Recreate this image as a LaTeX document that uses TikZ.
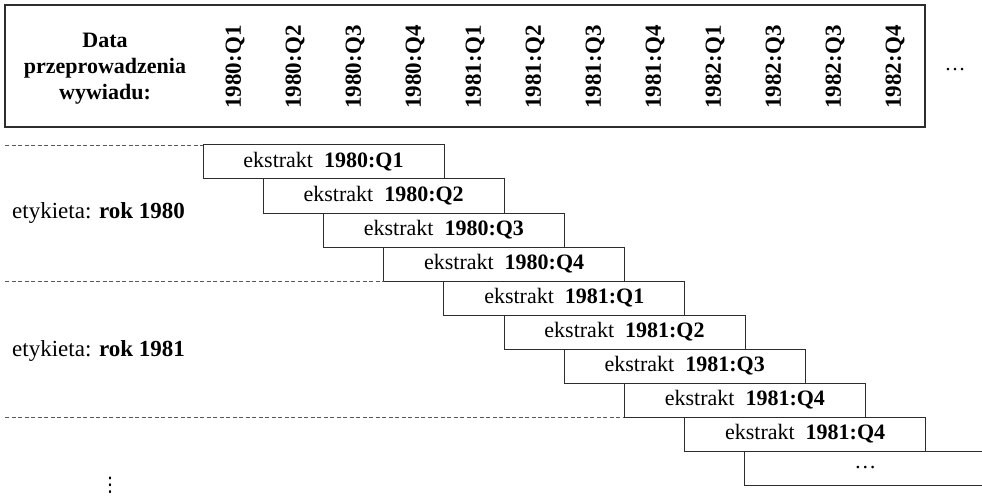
\documentclass[tikz,border=0pt]{standalone}
\usepackage{fontspec}
\setmainfont{Liberation Serif}
\newfontfamily\symfont{DejaVu Sans}
\usetikzlibrary{positioning}
\definecolor{dfline}{RGB}{45,45,45}
\definecolor{dfdash}{RGB}{90,90,90}
\tikzstyle{hdrbox} = [rectangle, draw=dfline, line width=1.2pt, minimum width=920pt, minimum height=122pt, inner sep=0pt, outer sep=0pt]
\tikzstyle{hdrtext} = [align=center, font=\fontsize{22}{26}\selectfont\bfseries]
\tikzstyle{qlabel} = [rotate=90, inner sep=0pt, font=\fontsize{23}{26}\selectfont\bfseries]
\tikzstyle{extbox} = [rectangle, draw=dfline, line width=1pt, minimum width=241pt, minimum height=34pt, inner sep=0pt, outer sep=0pt, anchor=north west, font=\fontsize{22}{25}\selectfont]
\tikzstyle{yearlabel} = [anchor=west, inner sep=0pt, font=\fontsize{23}{26}\selectfont]
\tikzstyle{yearline} = [dash pattern=on 4pt off 2.5pt, color=dfdash, line width=0.9pt]

\begin{document}
\begin{tikzpicture}[x=1pt, y=-1pt]
\clip (0,0) rectangle (982,497);
% Header with the interview dates
\node[hdrbox] (hdr) at (465,66) {};
\node[hdrtext] (title) at (105,69) {Data\\przeprowadzenia\\wywiadu:};
\node[qlabel] (q1) at (235,67) {1980:Q1};
\node[qlabel] (q2) at (295,67) {1980:Q2};
\node[qlabel] (q3) at (355,67) {1980:Q3};
\node[qlabel] (q4) at (415,67) {1980:Q4};
\node[qlabel] (q5) at (475,67) {1981:Q1};
\node[qlabel] (q6) at (535,67) {1981:Q2};
\node[qlabel] (q7) at (595,67) {1981:Q3};
\node[qlabel] (q8) at (655,67) {1981:Q4};
\node[qlabel] (q9) at (715,67) {1982:Q1};
\node[qlabel] (q10) at (775,67) {1982:Q3};
\node[qlabel] (q11) at (835,67) {1982:Q3};
\node[qlabel] (q12) at (895,67) {1982:Q4};
\node[font=\fontsize{21}{25}\selectfont] (hdots) at (955,70) {\dots};

% Extracts, each one shifted by a quarter
\node[extbox] (e1) at (203,145) {ekstrakt\enspace\textbf{1980:Q1}};
\node[extbox] (e2) at ([xshift=60.2pt]e1.south west) {ekstrakt\enspace\textbf{1980:Q2}};
\node[extbox] (e3) at ([xshift=60.2pt]e2.south west) {ekstrakt\enspace\textbf{1980:Q3}};
\node[extbox] (e4) at ([xshift=60.2pt]e3.south west) {ekstrakt\enspace\textbf{1980:Q4}};
\node[extbox] (e5) at ([xshift=60.2pt]e4.south west) {ekstrakt\enspace\textbf{1981:Q1}};
\node[extbox] (e6) at ([xshift=60.2pt]e5.south west) {ekstrakt\enspace\textbf{1981:Q2}};
\node[extbox] (e7) at ([xshift=60.2pt]e6.south west) {ekstrakt\enspace\textbf{1981:Q3}};
\node[extbox] (e8) at ([xshift=60.2pt]e7.south west) {ekstrakt\enspace\textbf{1981:Q4}};
\node[extbox] (e9) at ([xshift=60.2pt]e8.south west) {ekstrakt\enspace\textbf{1981:Q4}};
\node[extbox] (e10) at ([xshift=60.2pt]e9.south west) {\dots};

% Year separators and labels
\coordinate (s1) at (5,145);
\coordinate (s2) at (5,281);
\coordinate (s3) at (5,417);
\draw[yearline] (s1) -- (e1.north west);
\draw[yearline] (s2) -- (e4.south west);
\draw[yearline] (s3) -- (e8.south west);
\node[yearlabel] (y1980) at (12,213) {etykieta: \textbf{rok 1980}};
\node[yearlabel] (y1981) at (12,351) {etykieta: \textbf{rok 1981}};
\node[font=\fontsize{20}{24}\symfont, inner sep=0pt] (vdots) at (110,485) {⋮};
\end{tikzpicture}
\end{document}
